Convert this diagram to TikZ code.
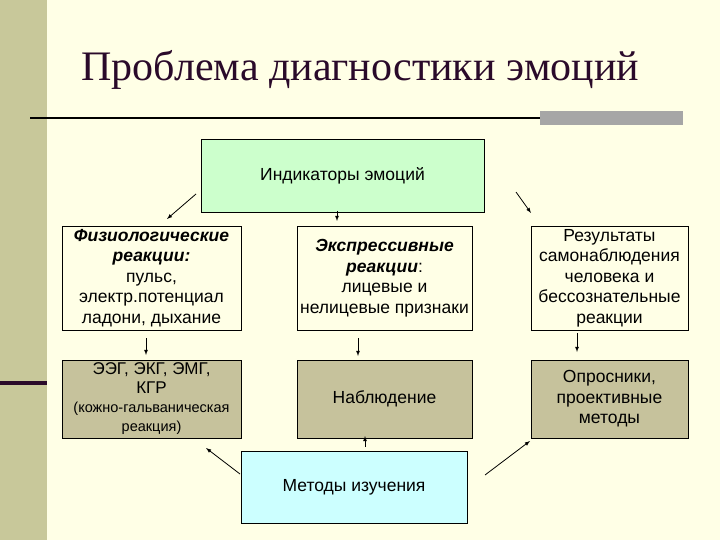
\documentclass[tikz,border=0pt]{standalone}
\usepackage{fontspec}
\setmainfont{Liberation Sans}
\newfontfamily\titlefont{Liberation Serif}
\definecolor{bg}{HTML}{FFFFE6}
\definecolor{strip}{HTML}{C8C89A}
\definecolor{olive}{HTML}{C6C29C}
\definecolor{gbox}{HTML}{CCFFCC}
\definecolor{bbox}{HTML}{CCFFFF}
\definecolor{dpurple}{HTML}{2A0A2A}
\begin{document}
\begin{tikzpicture}[x=1pt,y=-1pt,
  box/.style={draw=black,line width=0.8pt,align=center,inner sep=0pt,font=\fontsize{17.5}{20.5}\selectfont},
  arr/.style={-latex,line width=0.8pt}]
\fill[bg] (0,0) rectangle (720,540);
\useasboundingbox (0,0) rectangle (720,540);
\fill[strip] (0,0) rectangle (47,540);
\fill[dpurple] (0,381) rectangle (47,385);
\fill[black] (30,117) rectangle (540,119.5);
\fill[gray!70] (540,111) rectangle (683,125);
\node[anchor=west,text=dpurple,font=\titlefont\fontsize{42}{46}\selectfont] (title) at (78,70) {Проблема диагностики эмоций};
\node[box,fill=gbox,minimum width=283,minimum height=73] (ind) at (342.5,175.5) {Индикаторы эмоций};
\node[box,fill=bg,minimum width=179,minimum height=104] (f) at (151.5,278) {\textbf{\textit{Физиологические}}\\\textbf{\textit{реакции:}}\\пульс,\\электр.потенциал\\ладони, дыхание};
\node[box,fill=bg,minimum width=175,minimum height=104] (e) at (384.5,278) {\textbf{\textit{Экспрессивные}}\\\textbf{\textit{реакции}}:\\лицевые и\\нелицевые признаки};
\node[box,fill=bg,minimum width=157,minimum height=104] (r) at (609.5,278) {Результаты\\самонаблюдения\\человека и\\бессознательные\\реакции};
\node[box,fill=olive,minimum width=179,minimum height=78,font=\fontsize{17}{19}\selectfont] (eeg) at (151.5,399) {ЭЭГ, ЭКГ, ЭМГ,\\КГР\\{\fontsize{14.5}{17}\selectfont(кожно-гальваническая}\\{\fontsize{14.5}{17}\selectfont реакция)}};
\node[box,fill=olive,minimum width=175,minimum height=78] (n) at (384.5,399) {Наблюдение};
\node[box,fill=olive,minimum width=157,minimum height=78] (o) at (609.5,399) {Опросники,\\проективные\\методы};
\node[box,fill=bbox,minimum width=226,minimum height=72] (m) at (354,487) {Методы изучения};
\coordinate (a1) at (196,194); \coordinate (b1) at (167,219);
\coordinate (a2) at (337,211); \coordinate (b2) at (337,221);
\coordinate (a3) at (516,192); \coordinate (b3) at (531,213);
\draw[arr] (a1) -- (b1); \draw[arr] (a2) -- (b2); \draw[arr] (a3) -- (b3);
\coordinate (c1) at (146,338); \coordinate (d1) at (146,355);
\coordinate (c2) at (358,338); \coordinate (d2) at (358,356);
\coordinate (c3) at (577,333); \coordinate (d3) at (577,352);
\draw[arr] (c1) -- (d1); \draw[arr] (c2) -- (d2); \draw[arr] (c3) -- (d3);
\coordinate (g1) at (240,474); \coordinate (h1) at (206,448);
\coordinate (g2) at (365,447); \coordinate (h2) at (365,436);
\coordinate (g3) at (485,475); \coordinate (h3) at (530,441);
\draw[arr] (g1) -- (h1); \draw[arr] (g2) -- (h2); \draw[arr] (g3) -- (h3);
\end{tikzpicture}
\end{document}
